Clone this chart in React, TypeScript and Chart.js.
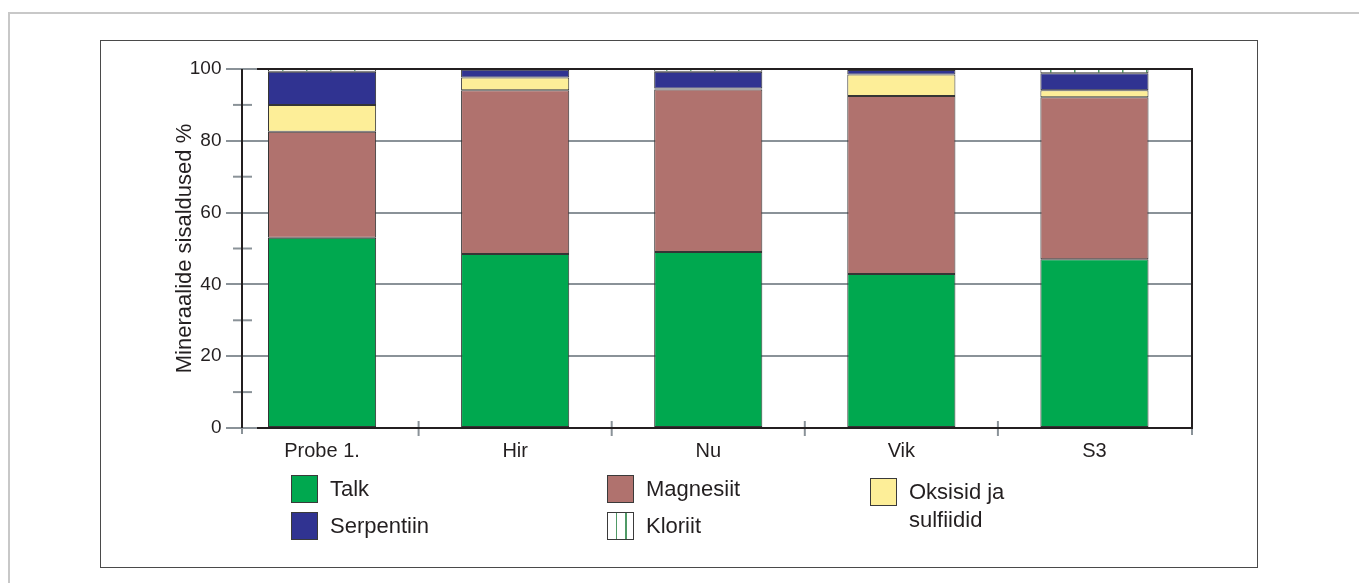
import React, { useEffect, useRef } from "react";
import { Chart, registerables } from "chart.js";

Chart.register(...registerables);

const categories = ["Probe 1.", "Hir", "Nu", "Vik", "S3"];
const talk = [53, 48.5, 49, 42.9, 47];
const magnesiit = [29.5, 45.6, 45.3, 49.6, 45.1];
const oksiidid = [7.5, 3.5, 0.3, 6.0, 2.0];
const serpentiin = [9.2, 2.2, 4.6, 1.2, 4.7];
const kloriit = [0.8, 0.2, 0.8, 0.3, 1.2];
const minorTicks = [10, 30, 50, 70, 90];

const seriesNames = ["Talk", "Magnesiit", "Oksisid ja sulfiidid", "Serpentiin", "Kloriit"];

const GREEN = "#00a84f";
const BROWN = "#b0726e";
const YELLOW = "#fdee98";
const BLUE = "#303391";
const GRID = "#8a9298";
const DARK = "#231f20";
const FONT = "'Liberation Sans', Arial, Helvetica, sans-serif";

function makePattern(): CanvasPattern | string {
  const c = document.createElement("canvas");
  c.width = 24;
  c.height = 10;
  const g = c.getContext("2d");
  if (!g) return "#ffffff";
  g.fillStyle = "#ffffff";
  g.fillRect(0, 0, 24, 10);
  g.fillStyle = "#4f9a66";
  g.fillRect(10, 0, 1.5, 10);
  const p = g.createPattern(c, "repeat");
  return p || "#ffffff";
}

const axesPlugin = {
  id: "customAxes",
  afterDatasetsDraw(chart: any) {
    const { ctx, chartArea, scales } = chart;
    const xs = scales.x;
    const ys = scales.y;
    const axisX = chartArea.left + 16.5;
    const y0 = ys.getPixelForValue(0);
    const y100 = ys.getPixelForValue(100);
    const line = (x1: number, y1: number, x2: number, y2: number) => {
      ctx.beginPath();
      ctx.moveTo(x1, y1);
      ctx.lineTo(x2, y2);
      ctx.stroke();
    };
    ctx.save();
    ctx.strokeStyle = GRID;
    ctx.lineWidth = 2;
    minorTicks.forEach((v) => {
      const py = ys.getPixelForValue(v);
      line(axisX - 9, py, axisX + 10, py);
    });
    line(axisX, y0, axisX, y0 + 6);
    line(chartArea.right + 1, y0, chartArea.right + 1, y0 + 7);
    for (let i = 0; i < categories.length - 1; i++) {
      const px = (xs.getPixelForValue(i) + xs.getPixelForValue(i + 1)) / 2;
      line(px, y0 - 7, px, y0 + 8);
    }
    ctx.strokeStyle = DARK;
    ctx.lineWidth = 2;
    line(axisX, y100, axisX, y0);
    line(axisX + 15, y100, chartArea.right + 2, y100);
    line(axisX + 15, y0, chartArea.right + 2, y0);
    line(chartArea.right + 1, y100, chartArea.right + 1, y0);
    ctx.restore();
  },
};

function LegendItem(props: { left: number; top: number; bg: string; lines: string[] }) {
  const { left, top, bg, lines } = props;
  return (
    <div style={{ position: "absolute", left, top, display: "flex", alignItems: "flex-start" }}>
      <div
        style={{
          width: 27,
          height: 28,
          boxSizing: "border-box",
          border: "1px solid #3a3a3a",
          background: bg,
        }}
      />
      <div
        style={{
          marginLeft: 12,
          fontFamily: FONT,
          fontSize: 22,
          lineHeight: "28px",
          color: DARK,
        }}
      >
        {lines.map((l, i) => (
          <div key={i}>{l}</div>
        ))}
      </div>
    </div>
  );
}

export default function App() {
  const ref = useRef<HTMLCanvasElement | null>(null);

  useEffect(() => {
    if (!ref.current) return;
    const pattern = makePattern();
    const border = "#353535";
    const mk = (label: string, data: number[], bg: any) => ({
      label,
      data,
      backgroundColor: bg,
      borderColor: border,
      borderWidth: 1,
      borderSkipped: false as const,
      categoryPercentage: 1,
      barPercentage: 0.56,
    });
    const chart = new Chart(ref.current, {
      type: "bar",
      data: {
        labels: categories,
        datasets: [
          mk(seriesNames[0], talk, GREEN),
          mk(seriesNames[1], magnesiit, BROWN),
          mk(seriesNames[2], oksiidid, YELLOW),
          mk(seriesNames[3], serpentiin, BLUE),
          mk(seriesNames[4], kloriit, pattern),
        ],
      },
      options: {
        animation: false,
        responsive: true,
        maintainAspectRatio: false,
        layout: { padding: { left: 137.5, right: 160, top: 61, bottom: 107 } },
        plugins: { legend: { display: false }, tooltip: { enabled: false } },
        scales: {
          x: {
            stacked: true,
            grid: { display: false },
            border: { display: false },
            ticks: { color: DARK, font: { family: FONT, size: 20 }, padding: 3 },
            afterFit: (s: any) => {
              s.height = 40;
            },
          },
          y: {
            stacked: true,
            min: 0,
            max: 100,
            grid: { color: GRID, lineWidth: 2, drawTicks: false },
            border: { display: false },
            ticks: { stepSize: 20, color: DARK, font: { family: FONT, size: 19 }, padding: 4 },
            title: {
              display: true,
              text: "Mineraalide sisaldused %",
              color: DARK,
              font: { family: FONT, size: 22 },
              padding: { top: 26, bottom: 0 },
            },
            afterFit: (s: any) => {
              s.width = 80;
            },
          },
        },
      },
      plugins: [axesPlugin],
    });
    return () => chart.destroy();
  }, []);

  return (
    <div style={{ position: "relative", width: 1343, height: 567 }}>
      <div
        style={{
          position: "fixed",
          left: 8,
          top: 12,
          width: 1500,
          height: 800,
          borderTop: "2px solid #c8c8c8",
          borderLeft: "2px solid #c8c8c8",
        }}
      />
      <div
        style={{
          position: "absolute",
          left: 92,
          top: 32,
          width: 1156,
          height: 526,
          border: "1px solid #4a4a4a",
        }}
      />
      <div style={{ position: "absolute", left: 0, top: 0, width: 1343, height: 567 }}>
        <canvas ref={ref} />
      </div>
      <LegendItem left={283} top={467} bg={GREEN} lines={["Talk"]} />
      <LegendItem left={283} top={504} bg={BLUE} lines={["Serpentiin"]} />
      <LegendItem left={599} top={467} bg={BROWN} lines={["Magnesiit"]} />
      <LegendItem
        left={599}
        top={504}
        bg={"repeating-linear-gradient(90deg, #ffffff 0px, #ffffff 8px, #4f9a66 8px, #4f9a66 9.5px)"}
        lines={["Kloriit"]}
      />
      <LegendItem left={862} top={470} bg={YELLOW} lines={["Oksisid ja", "sulfiidid"]} />
    </div>
  );
}
